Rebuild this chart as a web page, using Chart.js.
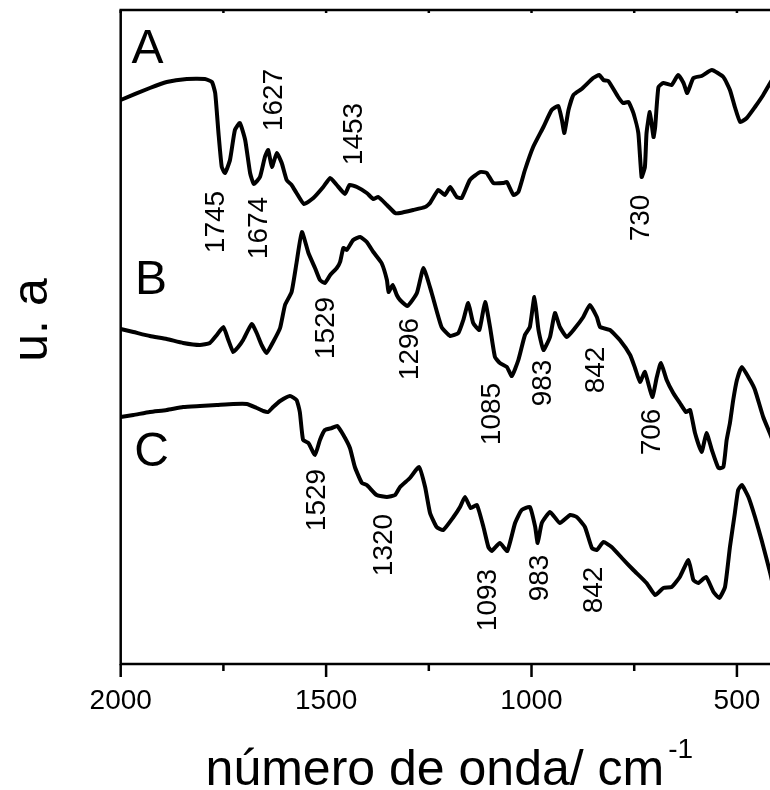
<!DOCTYPE html>
<html>
<head>
<meta charset="utf-8">
<script src="https://cdn.jsdelivr.net/npm/chart.js@4/dist/chart.umd.min.js"></script>
<style>
  html, body { margin: 0; padding: 0; background: #fff; overflow: hidden; }
  canvas { display: block; }
</style>
</head>
<body>
<canvas id="ftir" width="790" height="790"></canvas>
<script>
// ===== Data (wavenumber in cm-1, intensity in arbitrary units, offset per curve) =====
const WN_A = [2000,1929,1888,1839,1795,1778,1770,1762,1754,1746,1734,1722,1710,1697,1685,1676,1661,1649,1641,1632,
  1620,1608,1596,1584,1572,1554,1531,1507,1490,1474,1454,1443,1425,1401,1385,1373,1352,1332,1320,1288,
  1259,1247,1227,1211,1198,1182,1170,1150,1125,1109,1093,1069,1060,1044,1032,1016,996,971,951,935,
  926,920,910,898,878,850,835,825,813,789,777,764,752,740,732,724,720,712,703,699,
  691,679,659,643,630,621,606,586,561,533,517,505,492,476,456,436,419,405];
const INT_A = [5.64,5.76,5.82,5.85,5.85,5.82,5.71,5.31,4.97,4.91,5.04,5.34,5.41,5.24,4.91,4.80,4.87,5.07,5.14,4.97,
  5.11,5.01,4.84,4.79,4.71,4.60,4.66,4.77,4.86,4.79,4.70,4.79,4.77,4.71,4.65,4.67,4.59,4.51,4.51,4.54,
  4.57,4.61,4.74,4.69,4.77,4.67,4.66,4.84,4.92,4.91,4.81,4.81,4.82,4.69,4.72,4.94,5.17,5.37,5.54,5.58,
  5.44,5.31,5.54,5.69,5.75,5.86,5.89,5.84,5.83,5.67,5.61,5.62,5.51,5.31,4.87,4.97,5.31,5.52,5.27,5.37,
  5.77,5.81,5.79,5.89,5.81,5.71,5.86,5.88,5.94,5.87,5.74,5.57,5.42,5.46,5.57,5.69,5.81,5.90];

const WN_B = [2000,1969,1929,1888,1848,1807,1783,1766,1750,1738,1726,1714,1702,1681,1669,1657,1645,1629,1612,1600,
  1584,1572,1559,1543,1527,1515,1503,1490,1474,1466,1458,1450,1434,1417,1401,1385,1365,1352,1348,1338,
  1328,1320,1302,1279,1263,1243,1219,1198,1178,1166,1154,1142,1127,1113,1101,1089,1077,1060,1048,1032,
  1016,1004,993,983,971,955,943,931,914,894,874,858,841,833,809,785,760,748,736,724,
  706,695,685,671,655,639,624,614,602,586,574,561,545,533,525,517,509,500,488,468,
  456,436,419,405];
const INT_B = [3.35,3.32,3.28,3.25,3.21,3.19,3.21,3.29,3.37,3.24,3.12,3.17,3.24,3.40,3.31,3.19,3.11,3.22,3.36,3.59,
  3.72,4.01,4.32,4.11,3.96,3.84,3.81,3.89,3.96,4.02,4.16,4.14,4.24,4.27,4.22,4.12,4.01,3.84,3.72,3.79,
  3.69,3.64,3.58,3.71,3.96,3.71,3.37,3.28,3.31,3.44,3.61,3.41,3.34,3.62,3.37,3.07,3.01,2.97,2.88,3.04,
  3.29,3.37,3.67,3.34,3.14,3.27,3.51,3.37,3.27,3.36,3.47,3.59,3.47,3.37,3.34,3.24,3.09,2.96,2.82,2.92,
  2.67,2.87,3.01,2.84,2.71,2.61,2.52,2.54,2.31,2.12,2.31,2.14,1.96,1.97,2.24,2.41,2.64,2.84,2.97,2.84,
  2.74,2.47,2.30,2.15];

const WN_C = [2000,1969,1929,1888,1848,1807,1766,1726,1693,1669,1653,1641,1629,1612,1588,1572,1564,1556,1543,1527,
  1515,1503,1486,1473,1458,1442,1430,1413,1401,1377,1352,1332,1320,1296,1274,1259,1247,1231,1215,1190,
  1174,1162,1148,1133,1117,1105,1097,1077,1059,1040,1024,1004,991,985,975,955,931,906,890,870,
  853,841,825,805,780,752,720,699,679,659,639,618,606,594,575,557,543,529,517,505,
  497,488,472,456,440,419,405];
const INT_C = [2.47,2.49,2.52,2.54,2.57,2.58,2.59,2.60,2.60,2.56,2.53,2.52,2.57,2.63,2.68,2.64,2.52,2.24,2.21,2.09,
  2.24,2.34,2.36,2.38,2.29,2.16,1.97,1.81,1.79,1.69,1.67,1.69,1.77,1.86,1.97,1.77,1.51,1.37,1.34,1.47,
  1.57,1.67,1.56,1.59,1.37,1.17,1.13,1.21,1.13,1.41,1.54,1.57,1.37,1.21,1.41,1.52,1.41,1.49,1.47,1.37,
  1.16,1.14,1.22,1.17,1.06,0.94,0.81,0.69,0.76,0.77,0.87,1.04,0.84,0.81,0.87,0.72,0.66,0.77,1.17,1.51,
  1.74,1.79,1.67,1.47,1.24,0.91,0.65];

const X_MAJOR = [2000, 1500, 1000, 500];
const X_MINOR = [1750, 1250, 750];

// curve letters and band labels, placed in data coordinates
const CURVE_LETTERS = [
  { text: "A", wn: 1935, y: 6.14 },
  { text: "B", wn: 1926, y: 3.83 },
  { text: "C", wn: 1925, y: 2.11 },
];
const BAND_LABELS = [
  { text: "1745", wn: 1768, y: 4.42 },
  { text: "1674", wn: 1663, y: 4.36 },
  { text: "1627", wn: 1627, y: 5.64 },
  { text: "1453", wn: 1432, y: 5.30 },
  { text: "730",  wn: 733,  y: 4.46 },
  { text: "1529", wn: 1500, y: 3.36 },
  { text: "1296", wn: 1296, y: 3.15 },
  { text: "1085", wn: 1096, y: 2.50 },
  { text: "983",  wn: 972,  y: 2.81 },
  { text: "842",  wn: 843,  y: 2.94 },
  { text: "706",  wn: 707,  y: 2.32 },
  { text: "1529", wn: 1522, y: 1.64 },
  { text: "1320", wn: 1359, y: 1.19 },
  { text: "1093", wn: 1106, y: 0.64 },
  { text: "983",  wn: 979,  y: 0.86 },
  { text: "842",  wn: 848,  y: 0.74 },
];

const FONT = '"Liberation Sans", Arial, Helvetica, sans-serif';

function toPoints(xs, ys) {
  return xs.map((x, i) => ({ x, y: ys[i] }));
}

function series(label, xs, ys) {
  return {
    label,
    data: toPoints(xs, ys),
    borderColor: "#000",
    borderWidth: 4,
    pointRadius: 0,
    tension: 0.15,
    borderJoinStyle: "round",
    borderCapStyle: "round",
    fill: false,
  };
}

// ===== Frame, ticks and text =====
const framePlugin = {
  id: "frame",
  afterDraw(chart) {
    const { ctx, chartArea: a, scales } = chart;
    const xs = scales.x, ys = scales.y;
    ctx.save();
    ctx.strokeStyle = "#000";
    ctx.fillStyle = "#000";
    ctx.lineWidth = 2.5;
    ctx.strokeRect(a.left, a.top, a.right - a.left, a.bottom - a.top);

    ctx.beginPath();
    X_MAJOR.forEach((v) => {
      const px = xs.getPixelForValue(v);
      ctx.moveTo(px, a.bottom); ctx.lineTo(px, a.bottom + 13);
      ctx.moveTo(px, a.top); ctx.lineTo(px, a.top + 3);
    });
    X_MINOR.forEach((v) => {
      const px = xs.getPixelForValue(v);
      ctx.moveTo(px, a.bottom); ctx.lineTo(px, a.bottom + 7);
      ctx.moveTo(px, a.top); ctx.lineTo(px, a.top + 3);
    });
    ctx.stroke();

    // tick labels
    ctx.font = `28px ${FONT}`;
    ctx.textAlign = "center";
    ctx.textBaseline = "alphabetic";
    X_MAJOR.forEach((v) => {
      ctx.fillText(String(v), xs.getPixelForValue(v), a.bottom + 45);
    });

    // x title with superscript
    const main = "número de onda/ cm";
    const sup = "-1";
    ctx.font = `50px ${FONT}`;
    const wMain = ctx.measureText(main).width;
    ctx.font = `28px ${FONT}`;
    const wSup = ctx.measureText(sup).width;
    const total = wMain + 4 + wSup;
    const cx = (a.left + a.right) / 2;
    const x0 = cx - total / 2;
    ctx.textAlign = "left";
    ctx.font = `50px ${FONT}`;
    ctx.fillText(main, x0, a.bottom + 121);
    ctx.font = `28px ${FONT}`;
    ctx.fillText(sup, x0 + wMain + 4, a.bottom + 94);

    // y title
    ctx.save();
    ctx.translate(47, (a.top + a.bottom) / 2 - 17);
    ctx.rotate(-Math.PI / 2);
    ctx.font = `50px ${FONT}`;
    ctx.textAlign = "center";
    ctx.fillText("u. a", 0, 0);
    ctx.restore();

    // curve letters
    ctx.font = `48px ${FONT}`;
    ctx.textAlign = "center";
    ctx.textBaseline = "middle";
    CURVE_LETTERS.forEach((l) => {
      ctx.fillText(l.text, xs.getPixelForValue(l.wn), ys.getPixelForValue(l.y));
    });

    // band labels, rotated
    ctx.font = `28px ${FONT}`;
    BAND_LABELS.forEach((l) => {
      ctx.save();
      ctx.translate(xs.getPixelForValue(l.wn), ys.getPixelForValue(l.y));
      ctx.rotate(-Math.PI / 2);
      ctx.fillText(l.text, 0, 0);
      ctx.restore();
    });
    ctx.restore();
  },
};

new Chart(document.getElementById("ftir"), {
  type: "line",
  data: {
    datasets: [
      series("A", WN_A, INT_A),
      series("B", WN_B, INT_B),
      series("C", WN_C, INT_C),
    ],
  },
  options: {
    responsive: false,
    animation: false,
    layout: { padding: { left: 120.7, top: 10, right: 12, bottom: 126 } },
    plugins: { legend: { display: false }, tooltip: { enabled: false } },
    scales: {
      x: { type: "linear", reverse: true, min: 400, max: 2000, display: false },
      y: { min: 0, max: 6.54, display: false },
    },
  },
  plugins: [framePlugin],
});
</script>
</body>
</html>
